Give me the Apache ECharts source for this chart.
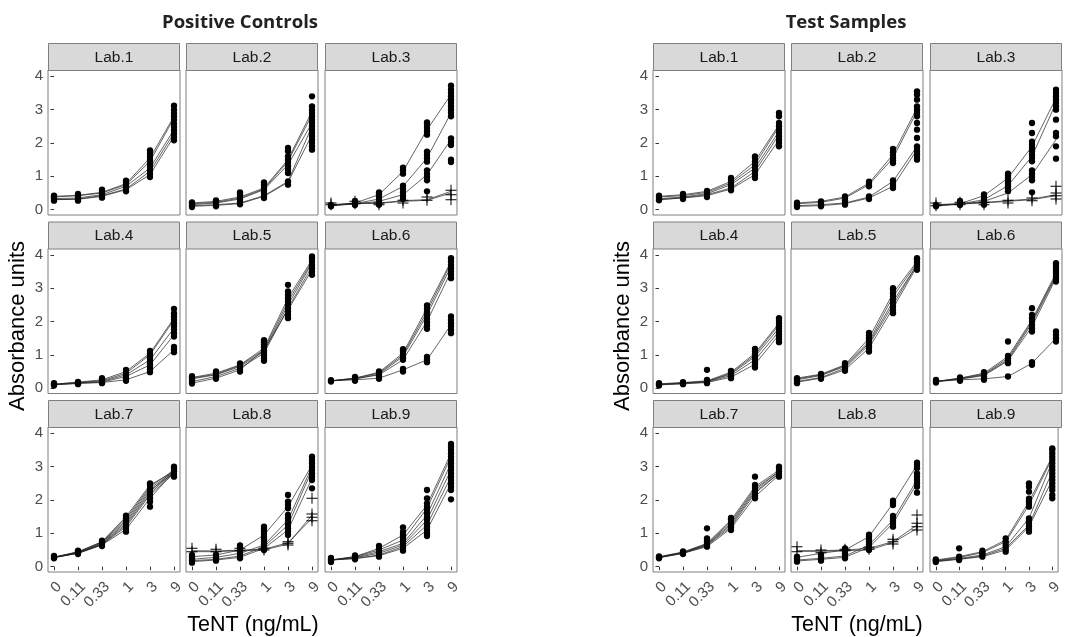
<!DOCTYPE html>
<html>
<head>
<meta charset="utf-8">
<script src="https://cdn.jsdelivr.net/npm/echarts@6/dist/echarts.min.js"></script>
<style>html,body{margin:0;padding:0;background:#fff;}#c{width:1065px;height:637px;}</style>
</head>
<body>
<div id="c"></div>
<script>
// ---------- tick labels / categories ----------
const xCats = ['0', '0.11', '0.33', '1', '3', '9'];
const yTickVals = [0, 1, 2, 3, 4];
const panelTitles = ['Positive Controls', 'Test Samples'];
const labNames = ['Lab.1', 'Lab.2', 'Lab.3', 'Lab.4', 'Lab.5', 'Lab.6', 'Lab.7', 'Lab.8', 'Lab.9'];
const xTitle = 'TeNT (ng/mL)';
const yTitle = 'Absorbance units';

// ---------- Positive Controls ----------
const pcLab1Lines = [
  [0.40, 0.43, 0.52, 0.78, 1.55, 2.80],
  [0.38, 0.42, 0.50, 0.75, 1.45, 2.75],
  [0.33, 0.35, 0.45, 0.70, 1.25, 2.40],
  [0.30, 0.32, 0.42, 0.62, 1.15, 2.30],
  [0.30, 0.31, 0.40, 0.60, 1.05, 2.20]
];
const pcLab1Dots = [
  [0.27, 0.32, 0.36, 0.40, 0.42],
  [0.27, 0.32, 0.38, 0.43, 0.47],
  [0.36, 0.42, 0.48, 0.54, 0.60],
  [0.55, 0.62, 0.68, 0.75, 0.82, 0.87],
  [0.98, 1.08, 1.18, 1.28, 1.38, 1.48, 1.58, 1.68, 1.78],
  [2.08, 2.18, 2.28, 2.38, 2.48, 2.58, 2.70, 2.80, 2.90, 3.00, 3.12]
];
const pcLab2Lines = [
  [0.20, 0.25, 0.38, 0.65, 1.50, 2.95],
  [0.18, 0.22, 0.35, 0.62, 1.45, 2.85],
  [0.15, 0.20, 0.32, 0.60, 1.35, 2.60],
  [0.12, 0.15, 0.20, 0.42, 0.85, 2.50],
  [0.10, 0.13, 0.18, 0.40, 0.82, 2.25]
];
const pcLab2Dots = [
  [0.08, 0.13, 0.18, 0.22],
  [0.10, 0.15, 0.20, 0.25, 0.28],
  [0.16, 0.22, 0.30, 0.38, 0.46, 0.52],
  [0.35, 0.42, 0.50, 0.58, 0.66, 0.74, 0.82],
  [0.75, 0.85, 1.10, 1.20, 1.30, 1.40, 1.50, 1.60, 1.75, 1.85],
  [1.80, 1.90, 2.00, 2.10, 2.20, 2.30, 2.40, 2.50, 2.60, 2.70, 2.80, 2.90, 3.00, 3.10, 3.40]
];
const pcLab3Lines = [
  [0.12, 0.20, 0.45, 1.15, 2.40, 3.45],
  [0.12, 0.18, 0.32, 0.70, 1.55, 2.90],
  [0.12, 0.17, 0.25, 0.45, 1.05, 2.10]
];
const pcLab3Dots = [
  [0.10, 0.14],
  [0.14, 0.20, 0.26],
  [0.15, 0.22, 0.30, 0.38, 0.46, 0.52],
  [0.32, 0.42, 0.52, 0.62, 0.72, 1.08, 1.18, 1.26],
  [0.55, 0.88, 0.98, 1.08, 1.18, 1.44, 1.54, 1.64, 1.74, 2.25, 2.35, 2.45, 2.55, 2.62],
  [1.43, 1.50, 1.94, 2.04, 2.14, 2.80, 2.90, 3.00, 3.10, 3.20, 3.30, 3.40, 3.50, 3.60, 3.72]
];
const pcLab3CrossLines = [
  [0.15, 0.20, 0.20, 0.27, 0.30, 0.55],
  [0.14, 0.18, 0.19, 0.25, 0.28, 0.50]
];
const pcLab3Crosses = [
  [0.15, 0.20],
  [0.18, 0.25],
  [0.15, 0.20],
  [0.20, 0.28],
  [0.28, 0.38],
  [0.30, 0.45, 0.58]
];
const pcLab4Lines = [
  [0.12, 0.18, 0.25, 0.50, 1.05, 2.10],
  [0.12, 0.17, 0.22, 0.45, 1.00, 2.05],
  [0.11, 0.16, 0.20, 0.40, 0.85, 1.80],
  [0.10, 0.15, 0.18, 0.35, 0.70, 1.60],
  [0.10, 0.14, 0.17, 0.25, 0.50, 1.15]
];
const pcLab4Dots = [
  [0.08, 0.12, 0.15],
  [0.12, 0.16, 0.19],
  [0.15, 0.20, 0.25, 0.30],
  [0.22, 0.30, 0.38, 0.46, 0.55],
  [0.48, 0.56, 0.64, 0.72, 0.80, 0.88, 0.96, 1.04, 1.12],
  [1.08, 1.16, 1.24, 1.55, 1.65, 1.75, 1.85, 1.95, 2.05, 2.15, 2.25, 2.38]
];
const pcLab5Lines = [
  [0.32, 0.45, 0.70, 1.20, 2.70, 3.85],
  [0.30, 0.42, 0.68, 1.15, 2.60, 3.80],
  [0.28, 0.40, 0.65, 1.10, 2.50, 3.75],
  [0.20, 0.35, 0.60, 1.05, 2.40, 3.65],
  [0.15, 0.30, 0.55, 1.15, 2.35, 3.55]
];
const pcLab5Dots = [
  [0.14, 0.20, 0.26, 0.32, 0.36],
  [0.28, 0.34, 0.40, 0.46, 0.50],
  [0.50, 0.56, 0.62, 0.68, 0.74],
  [0.82, 0.90, 0.98, 1.06, 1.14, 1.22, 1.30, 1.38, 1.44],
  [2.10, 2.20, 2.30, 2.40, 2.50, 2.60, 2.70, 2.80, 2.90, 3.10],
  [3.40, 3.50, 3.60, 3.70, 3.80, 3.90, 3.95]
];
const pcLab6Lines = [
  [0.22, 0.30, 0.48, 1.05, 2.40, 3.80],
  [0.22, 0.30, 0.45, 1.00, 2.30, 3.75],
  [0.22, 0.28, 0.42, 0.95, 2.20, 3.65],
  [0.22, 0.28, 0.40, 0.85, 2.00, 3.50],
  [0.22, 0.25, 0.30, 0.55, 0.85, 1.90]
];
const pcLab6Dots = [
  [0.20, 0.24],
  [0.22, 0.28, 0.34],
  [0.28, 0.34, 0.40, 0.46, 0.50],
  [0.50, 0.58, 0.85, 0.93, 1.01, 1.09, 1.17],
  [0.78, 0.86, 0.94, 1.78, 1.88, 1.98, 2.08, 2.18, 2.28, 2.38, 2.48],
  [1.65, 1.75, 1.85, 1.95, 2.05, 2.15, 3.30, 3.40, 3.50, 3.60, 3.70, 3.80, 3.90]
];
const pcLab7Lines = [
  [0.28, 0.45, 0.75, 1.50, 2.45, 2.85],
  [0.28, 0.44, 0.74, 1.45, 2.40, 2.90],
  [0.29, 0.43, 0.72, 1.40, 2.35, 2.85],
  [0.28, 0.42, 0.70, 1.35, 2.30, 2.80],
  [0.27, 0.42, 0.68, 1.30, 2.25, 2.90],
  [0.28, 0.41, 0.67, 1.25, 2.20, 2.85],
  [0.27, 0.40, 0.66, 1.20, 2.15, 2.80],
  [0.28, 0.40, 0.65, 1.12, 2.05, 2.85]
];
const pcLab7Dots = [
  [0.25, 0.29, 0.32],
  [0.38, 0.42, 0.46, 0.48],
  [0.62, 0.68, 0.74, 0.78],
  [1.05, 1.13, 1.21, 1.29, 1.37, 1.45, 1.53],
  [1.80, 1.95, 2.05, 2.15, 2.25, 2.35, 2.45, 2.50],
  [2.70, 2.78, 2.86, 2.94, 3.00]
];
const pcLab8Lines = [
  [0.30, 0.35, 0.50, 0.95, 1.80, 3.05],
  [0.22, 0.28, 0.40, 0.65, 1.40, 3.00],
  [0.18, 0.22, 0.32, 0.60, 1.25, 2.90],
  [0.15, 0.20, 0.28, 0.55, 1.10, 2.65]
];
const pcLab8Dots = [
  [0.12, 0.18, 0.24, 0.30, 0.35],
  [0.18, 0.24, 0.30, 0.36],
  [0.25, 0.32, 0.40, 0.48, 0.56, 0.64],
  [0.50, 0.58, 0.66, 0.74, 0.82, 0.90, 0.98, 1.06, 1.14, 1.20],
  [0.95, 1.05, 1.15, 1.25, 1.35, 1.45, 1.55, 1.75, 1.85, 1.95, 2.15],
  [2.35, 2.60, 2.70, 2.80, 2.90, 3.00, 3.10, 3.20, 3.30]
];
const pcLab8CrossLines = [
  [0.48, 0.47, 0.50, 0.52, 0.72, 1.45],
  [0.45, 0.45, 0.48, 0.50, 0.68, 1.55]
];
const pcLab8Crosses = [
  [0.45, 0.55],
  [0.45, 0.52],
  [0.48, 0.55],
  [0.50, 0.55],
  [0.65, 0.70, 0.75],
  [1.38, 1.48, 1.58, 2.05]
];
const pcLab9Lines = [
  [0.20, 0.30, 0.55, 0.95, 1.85, 3.40],
  [0.20, 0.30, 0.50, 0.80, 1.75, 3.30],
  [0.20, 0.28, 0.45, 0.70, 1.55, 3.10],
  [0.20, 0.27, 0.40, 0.65, 1.40, 2.90],
  [0.20, 0.25, 0.35, 0.60, 1.25, 2.70],
  [0.20, 0.24, 0.33, 0.55, 1.10, 2.50]
];
const pcLab9Dots = [
  [0.14, 0.18, 0.22, 0.26],
  [0.22, 0.28, 0.34],
  [0.30, 0.38, 0.46, 0.54, 0.62],
  [0.48, 0.56, 0.64, 0.72, 0.80, 0.88, 0.96, 1.05, 1.18],
  [0.92, 1.00, 1.10, 1.20, 1.30, 1.40, 1.50, 1.60, 1.70, 1.80, 1.90, 2.05, 2.30],
  [2.02, 2.30, 2.40, 2.50, 2.60, 2.70, 2.80, 2.90, 3.00, 3.10, 3.20, 3.30, 3.40, 3.50, 3.60, 3.68]
];

// ---------- Test Samples ----------
const tsLab1Lines = [
  [0.40, 0.45, 0.55, 0.85, 1.45, 2.55],
  [0.38, 0.42, 0.52, 0.80, 1.35, 2.50],
  [0.33, 0.38, 0.48, 0.75, 1.25, 2.35],
  [0.30, 0.36, 0.45, 0.65, 1.15, 2.25],
  [0.30, 0.35, 0.42, 0.62, 1.05, 2.10]
];
const tsLab1Dots = [
  [0.28, 0.33, 0.38, 0.42],
  [0.32, 0.37, 0.42, 0.47],
  [0.38, 0.44, 0.50, 0.56],
  [0.58, 0.66, 0.74, 0.82, 0.90, 0.95],
  [0.95, 1.05, 1.15, 1.25, 1.35, 1.45, 1.55, 1.60],
  [1.90, 2.00, 2.10, 2.20, 2.30, 2.40, 2.50, 2.60, 2.80, 2.90]
];
const tsLab2Lines = [
  [0.20, 0.25, 0.38, 0.80, 1.65, 3.05],
  [0.18, 0.22, 0.35, 0.75, 1.55, 2.95],
  [0.12, 0.15, 0.20, 0.38, 0.85, 1.90],
  [0.10, 0.12, 0.18, 0.35, 0.70, 1.80]
];
const tsLab2Dots = [
  [0.08, 0.13, 0.18, 0.21],
  [0.10, 0.15, 0.20, 0.25],
  [0.15, 0.20, 0.28, 0.35, 0.40],
  [0.32, 0.40, 0.70, 0.77, 0.84],
  [0.65, 0.72, 0.80, 0.88, 1.40, 1.48, 1.56, 1.64, 1.72, 1.82],
  [1.50, 1.58, 1.66, 1.74, 1.82, 1.90, 2.15, 2.40, 2.60, 2.80, 2.90, 3.00, 3.10, 3.30, 3.45, 3.55]
];
const tsLab3Lines = [
  [0.12, 0.18, 0.42, 0.95, 1.90, 3.35],
  [0.12, 0.17, 0.30, 0.72, 1.60, 3.20],
  [0.12, 0.16, 0.25, 0.50, 1.05, 2.10]
];
const tsLab3Dots = [
  [0.10, 0.14],
  [0.14, 0.20, 0.26],
  [0.15, 0.22, 0.30, 0.38, 0.46],
  [0.55, 0.62, 0.70, 0.78, 0.86, 0.94, 1.02, 1.08],
  [0.52, 0.88, 0.98, 1.08, 1.18, 1.45, 1.55, 1.65, 1.75, 1.85, 1.95, 2.04, 2.30, 2.60],
  [1.53, 1.90, 2.20, 2.30, 2.70, 3.00, 3.10, 3.20, 3.30, 3.40, 3.50, 3.60]
];
const tsLab3CrossLines = [
  [0.15, 0.18, 0.22, 0.27, 0.32, 0.45],
  [0.14, 0.17, 0.20, 0.25, 0.30, 0.42]
];
const tsLab3Crosses = [
  [0.12, 0.20],
  [0.15, 0.22],
  [0.15, 0.22],
  [0.20, 0.28],
  [0.27, 0.35],
  [0.32, 0.42, 0.50, 0.70]
];
const tsLab4Lines = [
  [0.13, 0.17, 0.22, 0.48, 1.05, 1.95],
  [0.12, 0.16, 0.20, 0.45, 1.00, 1.90],
  [0.11, 0.15, 0.20, 0.42, 0.95, 1.80],
  [0.10, 0.14, 0.18, 0.38, 0.85, 1.70],
  [0.10, 0.13, 0.17, 0.33, 0.72, 1.60]
];
const tsLab4Dots = [
  [0.08, 0.12, 0.15],
  [0.12, 0.15, 0.18],
  [0.15, 0.20, 0.25, 0.55],
  [0.30, 0.36, 0.42, 0.48, 0.52],
  [0.62, 0.70, 0.78, 0.86, 0.94, 1.02, 1.10, 1.18],
  [1.38, 1.46, 1.54, 1.62, 1.70, 1.78, 1.86, 1.94, 2.02, 2.10]
];
const tsLab5Lines = [
  [0.30, 0.42, 0.70, 1.50, 2.85, 3.80],
  [0.28, 0.40, 0.68, 1.40, 2.75, 3.75],
  [0.25, 0.38, 0.65, 1.35, 2.60, 3.70],
  [0.20, 0.32, 0.60, 1.30, 2.50, 3.70],
  [0.18, 0.30, 0.55, 1.20, 2.40, 3.65]
];
const tsLab5Dots = [
  [0.15, 0.20, 0.25, 0.30],
  [0.28, 0.33, 0.38, 0.43],
  [0.52, 0.58, 0.64, 0.70, 0.75],
  [1.10, 1.18, 1.26, 1.34, 1.42, 1.50, 1.58, 1.66],
  [2.25, 2.35, 2.45, 2.55, 2.65, 2.75, 2.85, 2.95, 3.00],
  [3.55, 3.62, 3.70, 3.78, 3.86, 3.90]
];
const tsLab6Lines = [
  [0.20, 0.30, 0.45, 0.95, 2.05, 3.45],
  [0.20, 0.30, 0.42, 0.90, 2.00, 3.40],
  [0.20, 0.28, 0.40, 0.85, 1.95, 3.35],
  [0.20, 0.27, 0.38, 0.82, 1.85, 3.30],
  [0.20, 0.25, 0.28, 0.35, 0.75, 1.50]
];
const tsLab6Dots = [
  [0.17, 0.21, 0.25],
  [0.22, 0.27, 0.32],
  [0.25, 0.30, 0.36, 0.42, 0.48],
  [0.35, 0.75, 0.82, 0.90, 0.97, 1.40],
  [0.70, 0.78, 1.70, 1.80, 1.90, 2.00, 2.10, 2.20, 2.40],
  [1.40, 1.50, 1.60, 1.70, 3.20, 3.28, 3.36, 3.44, 3.52, 3.60, 3.68, 3.75]
];
const tsLab7Lines = [
  [0.30, 0.44, 0.70, 1.40, 2.40, 2.90],
  [0.29, 0.43, 0.68, 1.35, 2.35, 2.85],
  [0.28, 0.42, 0.66, 1.30, 2.30, 2.85],
  [0.28, 0.41, 0.65, 1.25, 2.25, 2.80],
  [0.27, 0.40, 0.63, 1.20, 2.20, 2.80],
  [0.27, 0.40, 0.60, 1.15, 2.10, 2.75]
];
const tsLab7Dots = [
  [0.25, 0.28, 0.31],
  [0.38, 0.42, 0.46],
  [0.60, 0.66, 0.72, 0.78, 0.85, 1.15],
  [1.10, 1.18, 1.26, 1.34, 1.42, 1.46],
  [2.05, 2.13, 2.21, 2.29, 2.37, 2.45, 2.70],
  [2.70, 2.78, 2.86, 2.94, 3.00]
];
const tsLab8Lines = [
  [0.28, 0.40, 0.50, 0.90, 1.90, 3.05],
  [0.20, 0.25, 0.32, 0.65, 1.40, 2.60],
  [0.17, 0.22, 0.28, 0.58, 1.30, 2.50]
];
const tsLab8Dots = [
  [0.15, 0.20, 0.25, 0.30],
  [0.18, 0.24, 0.30, 0.36],
  [0.25, 0.32, 0.40, 0.48, 0.55],
  [0.50, 0.58, 0.66, 0.74, 0.82, 0.90, 0.96],
  [1.20, 1.28, 1.36, 1.44, 1.52, 1.85, 1.92, 1.98],
  [2.22, 2.40, 2.50, 2.60, 2.70, 2.80, 2.95, 3.05, 3.12]
];
const tsLab8CrossLines = [
  [0.48, 0.48, 0.50, 0.55, 0.75, 1.25],
  [0.46, 0.46, 0.48, 0.50, 0.72, 1.15]
];
const tsLab8Crosses = [
  [0.45, 0.60],
  [0.42, 0.50],
  [0.48, 0.52],
  [0.52, 0.58],
  [0.68, 0.75, 0.82],
  [1.10, 1.20, 1.30, 1.55]
];
const tsLab9Lines = [
  [0.20, 0.30, 0.45, 0.80, 1.95, 3.30],
  [0.18, 0.28, 0.42, 0.75, 1.85, 3.25],
  [0.17, 0.25, 0.35, 0.60, 1.45, 3.15],
  [0.16, 0.23, 0.32, 0.55, 1.25, 2.85],
  [0.15, 0.22, 0.30, 0.50, 1.20, 2.60]
];
const tsLab9Dots = [
  [0.14, 0.18, 0.22],
  [0.20, 0.25, 0.30, 0.55],
  [0.30, 0.36, 0.42, 0.48],
  [0.45, 0.52, 0.60, 0.68, 0.76, 0.85],
  [1.05, 1.13, 1.21, 1.29, 1.37, 1.45, 1.80, 1.88, 1.96, 2.04, 2.25, 2.40, 2.50],
  [2.05, 2.15, 2.30, 2.40, 2.50, 2.60, 2.70, 2.80, 2.90, 3.00, 3.10, 3.20, 3.30, 3.40, 3.50, 3.55]
];

// ---------- assemble panels ----------
const sides = [
  [
    {lines: pcLab1Lines, dots: pcLab1Dots},
    {lines: pcLab2Lines, dots: pcLab2Dots},
    {lines: pcLab3Lines, dots: pcLab3Dots, crossLines: pcLab3CrossLines, crosses: pcLab3Crosses},
    {lines: pcLab4Lines, dots: pcLab4Dots},
    {lines: pcLab5Lines, dots: pcLab5Dots},
    {lines: pcLab6Lines, dots: pcLab6Dots},
    {lines: pcLab7Lines, dots: pcLab7Dots},
    {lines: pcLab8Lines, dots: pcLab8Dots, crossLines: pcLab8CrossLines, crosses: pcLab8Crosses},
    {lines: pcLab9Lines, dots: pcLab9Dots}
  ],
  [
    {lines: tsLab1Lines, dots: tsLab1Dots},
    {lines: tsLab2Lines, dots: tsLab2Dots},
    {lines: tsLab3Lines, dots: tsLab3Dots, crossLines: tsLab3CrossLines, crosses: tsLab3Crosses},
    {lines: tsLab4Lines, dots: tsLab4Dots},
    {lines: tsLab5Lines, dots: tsLab5Dots},
    {lines: tsLab6Lines, dots: tsLab6Dots},
    {lines: tsLab7Lines, dots: tsLab7Dots},
    {lines: tsLab8Lines, dots: tsLab8Dots, crossLines: tsLab8CrossLines, crosses: tsLab8Crosses},
    {lines: tsLab9Lines, dots: tsLab9Dots}
  ]
];

// ---------- layout ----------
const colLefts = [[48, 186, 325], [653, 791, 930]];
const stripTops = [43, 221.5, 400];
const panelW = 132, stripH = 27, plotH = 145;
const titleCenters = [240, 846];
const xTitleCenters = [253, 857];
const yTitleX = [18, 623];
const borderCol = '#7f7f7f';
const tickFont = 'Liberation Sans, Arial, sans-serif';
const plusPath = 'path://M-0.09,-1 L0.09,-1 L0.09,-0.09 L1,-0.09 L1,0.09 L0.09,0.09 L0.09,1 L-0.09,1 L-0.09,0.09 L-1,0.09 L-1,-0.09 L-0.09,-0.09 Z';

const grids = [], xAxes = [], yAxes = [], series = [], graphics = [];

sides.forEach((panels, s) => {
  graphics.push({
    type: 'text', x: titleCenters[s], y: 23, z: 100,
    style: {text: panelTitles[s], font: 'bold 18.5px "Open Sans", sans-serif', fill: '#222', align: 'center', verticalAlign: 'middle'}
  });
  graphics.push({
    type: 'text', x: xTitleCenters[s], y: 625, z: 100,
    style: {text: xTitle, font: '21.5px "Liberation Sans", Arial, sans-serif', fill: '#000', align: 'center', verticalAlign: 'middle'}
  });
  graphics.push({
    type: 'text', x: yTitleX[s], y: 326, rotation: Math.PI / 2, z: 100,
    style: {text: yTitle, font: '22px "Liberation Sans", Arial, sans-serif', fill: '#000', align: 'center', verticalAlign: 'middle'}
  });
  panels.forEach((p, k) => {
    const r = Math.floor(k / 3), c = k % 3;
    const left = colLefts[s][c], top = stripTops[r];
    const gi = grids.length;
    const isBottom = r === 2, isLeft = c === 0;
    grids.push({left: left, top: top + stripH, width: panelW, height: plotH, show: true, borderColor: borderCol, borderWidth: 1, backgroundColor: '#fff'});
    xAxes.push({
      gridIndex: gi, type: 'value', min: -0.25, max: 5.25,
      axisLine: {show: false}, splitLine: {show: false},
      axisTick: {show: isBottom, length: 3.5, lineStyle: {color: '#333'}, customValues: [0, 1, 2, 3, 4, 5]},
      axisLabel: {show: isBottom, customValues: [0, 1, 2, 3, 4, 5], formatter: v => xCats[Math.round(v)], rotate: 45, align: 'right', verticalAlign: 'top', color: '#4d4d4d', fontSize: 15, fontFamily: tickFont, margin: 7}
    });
    yAxes.push({
      gridIndex: gi, type: 'value', min: -0.16, max: 4.19,
      axisLine: {show: false}, splitLine: {show: false},
      axisTick: {show: isLeft, length: 3.5, lineStyle: {color: '#333'}, customValues: yTickVals},
      axisLabel: {show: isLeft, customValues: yTickVals, color: '#4d4d4d', fontSize: 15, fontFamily: tickFont, margin: 5}
    });
    // strip
    graphics.push({
      type: 'rect', z: 90,
      shape: {x: left + 0.5, y: top + 0.5, width: panelW - 1, height: stripH},
      style: {fill: '#d9d9d9', stroke: borderCol, lineWidth: 1}
    });
    graphics.push({
      type: 'text', z: 91, x: left + panelW / 2, y: top + stripH / 2 + 1,
      style: {text: labNames[k], font: '15.5px "Liberation Sans", Arial, sans-serif', fill: '#1a1a1a', align: 'center', verticalAlign: 'middle'}
    });
    const lineSeries = (vals) => ({
      type: 'line', xAxisIndex: gi, yAxisIndex: gi, silent: true, animation: false,
      data: vals.map((v, i) => [i, v]), symbol: 'none', z: 2,
      lineStyle: {color: '#222', width: 0.7}
    });
    p.lines.forEach(l => series.push(lineSeries(l)));
    (p.crossLines || []).forEach(l => series.push(lineSeries(l)));
    series.push({
      type: 'scatter', xAxisIndex: gi, yAxisIndex: gi, silent: true, animation: false, z: 3,
      data: p.dots.flatMap((col, i) => col.map(v => [i, v])),
      symbol: 'circle', symbolSize: 6.3, itemStyle: {color: '#000', opacity: 1}
    });
    if (p.crosses) {
      series.push({
        type: 'scatter', xAxisIndex: gi, yAxisIndex: gi, silent: true, animation: false, z: 3,
        data: p.crosses.flatMap((col, i) => col.map(v => [i, v])),
        symbol: plusPath, symbolSize: 11, itemStyle: {color: '#000', opacity: 1}
      });
    }
  });
});

const chart = echarts.init(document.getElementById('c'), null, {renderer: 'canvas'});
chart.setOption({
  animation: false,
  backgroundColor: '#fff',
  grid: grids,
  xAxis: xAxes,
  yAxis: yAxes,
  series: series,
  graphic: graphics
});
</script>
</body>
</html>
